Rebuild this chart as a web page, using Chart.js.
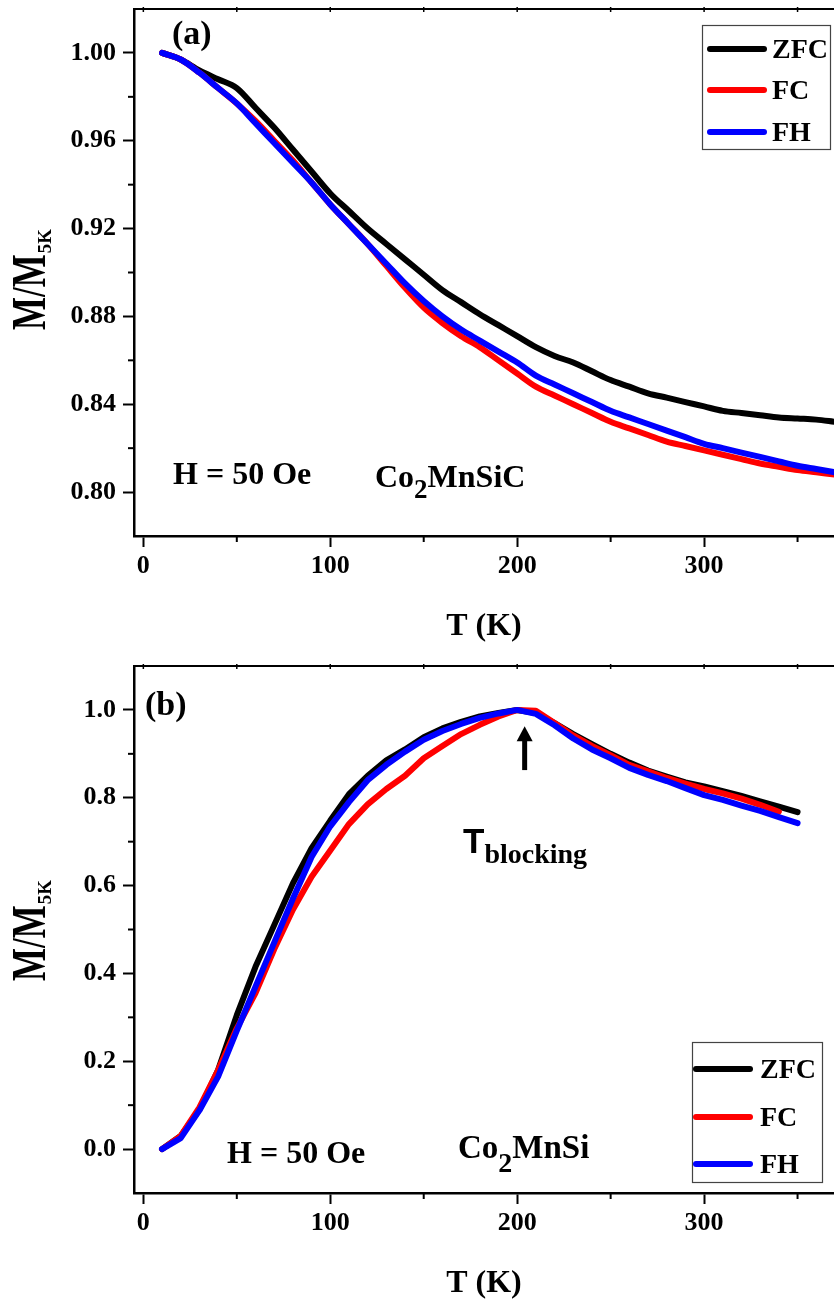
<!DOCTYPE html>
<html>
<head>
<meta charset="utf-8">
<title>M/M5K vs T</title>
<script src="https://cdn.jsdelivr.net/npm/chart.js@4.4.1/dist/chart.umd.min.js"></script>
<style>
  html, body { margin: 0; padding: 0; background: #fff; }
  .panel { width: 834px; height: 650px; }
  canvas { display: block; }
</style>
</head>
<body>
<div class="panel"><canvas id="chartA" width="834" height="650"></canvas></div>
<div class="panel"><canvas id="chartB" width="834" height="650"></canvas></div>
<script>
const seriesNames = ["ZFC", "FC", "FH"];
const seriesColors = ["#000000", "#ff0000", "#0000ff"];

// (a) Co2MnSiC, T in K
const tempA = [10, 20, 30, 40, 50, 60, 70, 80, 90, 100, 110, 120, 130, 140, 150, 160, 170, 180, 190,
  200, 210, 220, 230, 240, 250, 260, 270, 280, 290, 300, 310, 320, 330, 340, 350, 360, 370];
const zfcA = [1.000, 0.997, 0.992, 0.988, 0.984, 0.975, 0.966, 0.956, 0.946, 0.936, 0.928, 0.920, 0.913,
  0.906, 0.899, 0.892, 0.8865, 0.881, 0.876, 0.871, 0.866, 0.862, 0.859, 0.855, 0.851, 0.848, 0.845,
  0.843, 0.841, 0.839, 0.837, 0.836, 0.835, 0.834, 0.8335, 0.833, 0.832];
const fcA = [1.000, 0.997, 0.991, 0.984, 0.977, 0.969, 0.960, 0.951, 0.941, 0.931, 0.922, 0.913, 0.903,
  0.893, 0.884, 0.877, 0.871, 0.866, 0.860, 0.854, 0.848, 0.844, 0.840, 0.836, 0.832, 0.829, 0.826,
  0.823, 0.821, 0.819, 0.817, 0.815, 0.813, 0.8115, 0.810, 0.809, 0.808];
const fhA = [1.000, 0.997, 0.991, 0.984, 0.977, 0.968, 0.959, 0.950, 0.941, 0.931, 0.922, 0.913, 0.904,
  0.895, 0.887, 0.880, 0.874, 0.869, 0.864, 0.859, 0.853, 0.849, 0.845, 0.841, 0.837, 0.834, 0.831,
  0.828, 0.825, 0.822, 0.820, 0.818, 0.816, 0.814, 0.812, 0.8105, 0.809];

// (b) Co2MnSi
const tempB = [10, 20, 30, 40, 50, 60, 70, 80, 90, 100, 110, 120, 130, 140, 150, 160, 170, 180, 190,
  200, 210, 220, 230, 240, 250, 260, 270, 280, 290, 300, 310, 320, 330, 340, 350];
const zfcB = [0.000, 0.030, 0.090, 0.180, 0.305, 0.415, 0.510, 0.605, 0.685, 0.748, 0.808, 0.850, 0.885,
  0.910, 0.938, 0.958, 0.973, 0.985, 0.993, 1.000, 0.993, 0.970, 0.945, 0.922, 0.900, 0.880, 0.862,
  0.848, 0.835, 0.826, 0.815, 0.804, 0.792, 0.780, 0.767];
const fcB = [0.000, 0.030, 0.095, 0.180, 0.275, 0.355, 0.455, 0.545, 0.620, 0.680, 0.740, 0.785, 0.820,
  0.850, 0.890, 0.918, 0.945, 0.966, 0.985, 1.000, 0.998, 0.970, 0.942, 0.918, 0.897, 0.875, 0.860,
  0.845, 0.832, 0.820, 0.810, 0.798, 0.784, 0.768];
const fhB = [0.000, 0.025, 0.088, 0.165, 0.270, 0.370, 0.470, 0.570, 0.665, 0.735, 0.790, 0.840, 0.875,
  0.905, 0.932, 0.952, 0.968, 0.982, 0.992, 1.000, 0.991, 0.965, 0.935, 0.910, 0.890, 0.868, 0.852,
  0.838, 0.822, 0.806, 0.795, 0.782, 0.770, 0.756, 0.742];

// ticks
const xTicks = [0, 100, 200, 300];
const xMinor = [50, 150, 250, 350];
const yTicksA = [0.80, 0.84, 0.88, 0.92, 0.96, 1.00];
const yMinorA = [0.82, 0.86, 0.90, 0.94, 0.98];
const yTicksB = [0.0, 0.2, 0.4, 0.6, 0.8, 1.0];
const yMinorB = [0.1, 0.3, 0.5, 0.7, 0.9];

const serif = '"Liberation Serif", "Times New Roman", serif';
const sans = '"Liberation Sans", Arial, sans-serif';

function runs(ctx, parts, x, y) {
  let cx = x;
  parts.forEach(p => {
    ctx.font = p.font;
    ctx.fillText(p.text, cx, y + (p.dy || 0));
    cx += ctx.measureText(p.text).width;
  });
}

// frame bits, labels and legend that chart.js doesn't do for us
const decor = {
  id: "decor",
  afterDraw(chart, args, o) {
    const { ctx, chartArea: a, scales: { x, y } } = chart;
    ctx.save();
    ctx.strokeStyle = "#000";
    ctx.fillStyle = "#000";
    ctx.textBaseline = "alphabetic";
    ctx.textAlign = "left";

    // top frame line
    ctx.lineWidth = 2;
    ctx.beginPath();
    ctx.moveTo(a.left, a.top);
    ctx.lineTo(a.right, a.top);
    ctx.stroke();
    ctx.lineWidth = 1.5;
    xTicks.concat(xMinor).forEach(v => {
      const px = x.getPixelForValue(v);
      ctx.beginPath();
      ctx.moveTo(px, a.top - 2);
      ctx.lineTo(px, a.top + 3);
      ctx.stroke();
    });

    // minor ticks
    ctx.lineWidth = 2;
    xMinor.forEach(v => {
      const px = x.getPixelForValue(v);
      ctx.beginPath();
      ctx.moveTo(px, a.bottom);
      ctx.lineTo(px, a.bottom + 6);
      ctx.stroke();
    });
    o.yMinor.forEach(v => {
      const py = y.getPixelForValue(v);
      ctx.beginPath();
      ctx.moveTo(a.left - 6, py);
      ctx.lineTo(a.left, py);
      ctx.stroke();
    });

    // y title M/M5K
    ctx.save();
    ctx.translate(45, o.yTitleStart);
    ctx.rotate(-Math.PI / 2);
    ctx.save();
    ctx.scale(1, 1.4);
    ctx.font = "bold 35px " + serif;
    ctx.fillText("M/M", 0, 0);
    const w = ctx.measureText("M/M").width;
    ctx.restore();
    ctx.font = "bold 19px " + serif;
    ctx.fillText("5K", w + 1, 6);
    ctx.restore();

    // labels
    o.labels.forEach(l => runs(ctx, l.parts, l.x, l.y));

    // arrow
    if (o.arrow) {
      const ax = x.getPixelForValue(o.arrow.t);
      const tip = y.getPixelForValue(o.arrow.top);
      const base = y.getPixelForValue(o.arrow.bottom);
      ctx.lineWidth = 5;
      ctx.beginPath();
      ctx.moveTo(ax, base);
      ctx.lineTo(ax, tip + 12);
      ctx.stroke();
      ctx.beginPath();
      ctx.moveTo(ax, tip);
      ctx.lineTo(ax - 8, tip + 15);
      ctx.lineTo(ax + 8, tip + 15);
      ctx.closePath();
      ctx.fill();
    }

    // legend
    const lg = o.legend;
    ctx.lineWidth = 1.2;
    ctx.strokeStyle = "#444";
    ctx.strokeRect(lg.box[0] + 0.5, lg.box[1] + 0.5, lg.box[2], lg.box[3]);
    ctx.lineCap = "round";
    ctx.font = "bold 28px " + serif;
    seriesNames.forEach((n, i) => {
      ctx.strokeStyle = seriesColors[i];
      ctx.lineWidth = 6;
      ctx.beginPath();
      ctx.moveTo(lg.x1, lg.rows[i]);
      ctx.lineTo(lg.x2, lg.rows[i]);
      ctx.stroke();
      ctx.fillText(n, lg.textX, lg.rows[i] + 9);
    });
    ctx.restore();
  }
};

function makeChart(id, c) {
  const datasets = c.series.map((vals, i) => ({
    label: seriesNames[i],
    data: vals.map((v, k) => ({ x: c.temp[k], y: v })),
    borderColor: seriesColors[i],
    backgroundColor: seriesColors[i],
    borderWidth: 6,
    pointRadius: 0,
    fill: false,
    tension: c.smooth ? 0.4 : 0,
    cubicInterpolationMode: c.smooth ? "monotone" : "default",
    borderCapStyle: "round",
    borderJoinStyle: "round",
    order: 3 - i
  }));

  return new Chart(document.getElementById(id), {
    type: "line",
    data: { datasets },
    options: {
      responsive: false,
      animation: false,
      events: [],
      layout: { padding: { top: c.top, right: 0, bottom: 0, left: 0 } },
      plugins: {
        legend: { display: false },
        tooltip: { enabled: false },
        decor: c.decor
      },
      scales: {
        x: {
          type: "linear",
          min: -5,
          max: 369.5,
          afterBuildTicks: s => { s.ticks = xTicks.map(v => ({ value: v })); },
          afterFit: s => {
            s.height = c.xHeight;
            s.paddingLeft = 0;
            s.paddingRight = 0;
          },
          ticks: {
            color: "#000",
            padding: 4,
            maxRotation: 0,
            font: { family: serif, size: 26, weight: "bold" },
            callback: v => String(v)
          },
          grid: { display: true, drawOnChartArea: false, tickLength: 11, tickWidth: 2, tickColor: "#000" },
          border: { display: true, color: "#000", width: 2.5 },
          title: {
            display: true,
            text: "T (K)",
            color: "#000",
            font: { family: serif, size: 32, weight: "bold", lineHeight: 1 },
            padding: { top: 0, bottom: c.titlePad }
          }
        },
        y: {
          type: "linear",
          min: c.yMin,
          max: c.yMax,
          afterBuildTicks: s => { s.ticks = c.yTicks.map(v => ({ value: v })); },
          afterFit: s => {
            s.width = 134;
            s.paddingTop = 0;
            s.paddingBottom = 0;
          },
          ticks: {
            color: "#000",
            padding: 7,
            font: { family: serif, size: 26, weight: "bold" },
            callback: v => v.toFixed(c.digits)
          },
          grid: { display: true, drawOnChartArea: false, tickLength: 11, tickWidth: 2, tickColor: "#000" },
          border: { display: true, color: "#000", width: 2.5 }
        }
      }
    },
    plugins: [decor]
  });
}

const big = "bold 32px " + serif;

makeChart("chartA", {
  temp: tempA,
  series: [zfcA, fcA, fhA],
  smooth: true,
  top: 9,
  xHeight: 114,
  titlePad: 7,
  yMin: 0.78,
  yMax: 1.02,
  yTicks: yTicksA,
  digits: 2,
  decor: {
    yMinor: yMinorA,
    yTitleStart: 330,
    labels: [
      { x: 172, y: 44, parts: [{ text: "(a)", font: "bold 34px " + serif }] },
      { x: 173, y: 484, parts: [{ text: "H = 50 Oe", font: big }] },
      { x: 375, y: 487, parts: [
        { text: "Co", font: big },
        { text: "2", font: "bold 27px " + serif, dy: 11 },
        { text: "MnSiC", font: big }
      ] }
    ],
    legend: { box: [702, 25, 128, 124], x1: 710, x2: 764, rows: [49, 90, 132], textX: 772 }
  }
});

makeChart("chartB", {
  temp: tempB,
  series: [zfcB, fcB, fhB],
  smooth: false,
  top: 16,
  xHeight: 107,
  titlePad: 0,
  yMin: -0.1,
  yMax: 1.1,
  yTicks: yTicksB,
  digits: 1,
  decor: {
    yMinor: yMinorB,
    yTitleStart: 331,
    labels: [
      { x: 145, y: 65, parts: [{ text: "(b)", font: "bold 34px " + serif }] },
      { x: 227, y: 513, parts: [{ text: "H = 50 Oe", font: big }] },
      { x: 458, y: 508, parts: [
        { text: "Co", font: "bold 33px " + serif },
        { text: "2", font: "bold 28px " + serif, dy: 14 },
        { text: "MnSi", font: "bold 33px " + serif }
      ] },
      { x: 463, y: 203, parts: [
        { text: "T", font: "bold 35px " + sans },
        { text: "blocking", font: "bold 28px " + serif, dy: 10 }
      ] }
    ],
    arrow: { t: 204, top: 0.963, bottom: 0.863 },
    legend: { box: [692, 392, 130, 140], x1: 696, x2: 750, rows: [419, 467, 514], textX: 760 }
  }
});
</script>
</body>
</html>
